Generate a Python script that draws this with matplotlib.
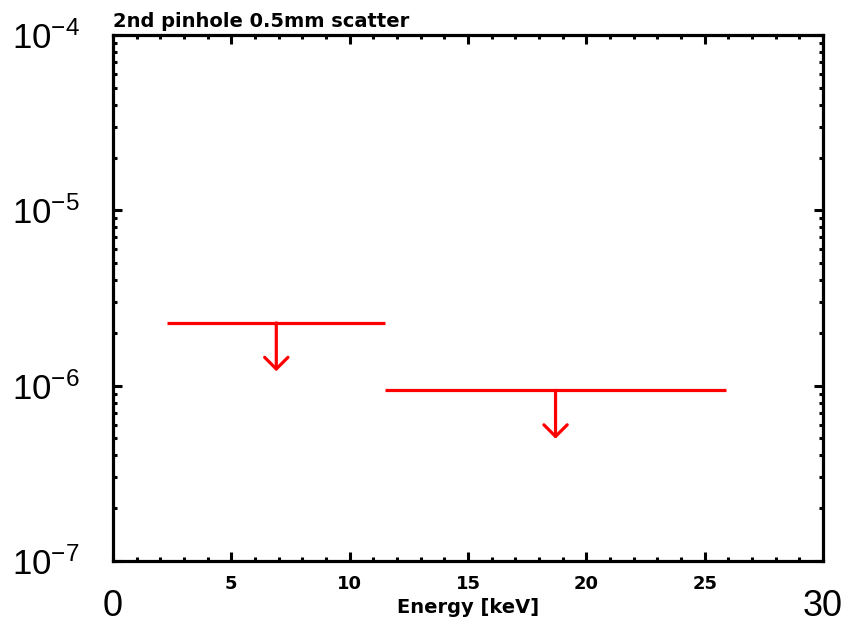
import numpy as np
import matplotlib
matplotlib.use("Agg")
import matplotlib.pyplot as plt
from matplotlib.ticker import LogLocator, MultipleLocator, NullFormatter

plt.rcParams['font.family'] = ['Liberation Sans', 'DejaVu Sans']
plt.rcParams['mathtext.default'] = 'regular'

# upper limits: energy bins [keV] and flux limits
bin_lo = [2.3, 11.5]
bin_hi = [11.5, 25.9]
limits = [2.28e-6, 9.4e-7]
arrow_factor = 0.53

title = "2nd pinhole 0.5mm scatter"
xlabel = "Energy [keV]"
small_ticks = [5, 10, 15, 20, 25]
edge_ticks = [0, 30]

fig = plt.figure(figsize=(8.42, 6.25), dpi=100)
ax = fig.add_axes([0.1342, 0.1024, 0.8432, 0.8416])

red = '#ff0000'
for lo, hi, lim in zip(bin_lo, bin_hi, limits):
    ax.hlines(lim, lo, hi, color=red, lw=2.3)
    mid = 0.5 * (lo + hi)
    ax.annotate('', xy=(mid, lim * arrow_factor), xytext=(mid, lim),
                arrowprops=dict(arrowstyle='->,head_length=0.42,head_width=0.42',
                                color=red, lw=2.3, shrinkA=0, shrinkB=0,
                                mutation_scale=20))

ax.set_xlim(0, 30)
ax.set_yscale('log')
ax.set_ylim(1e-7, 1e-4)

for s in ax.spines.values():
    s.set_linewidth(2.3)

ax.set_xticks(small_ticks)
ax.set_xticklabels([str(t) for t in small_ticks], family='DejaVu Sans',
                   fontweight='bold', fontsize=13)
ax.xaxis.set_minor_locator(MultipleLocator(1))
ax.yaxis.set_major_locator(LogLocator(base=10, numticks=10))
ax.yaxis.set_minor_locator(LogLocator(base=10, subs=np.arange(2, 10), numticks=10))
ax.yaxis.set_minor_formatter(NullFormatter())

ax.tick_params(which='both', direction='in', top=True, right=True, width=2.2)
ax.tick_params(which='major', length=6.5)
ax.tick_params(which='minor', length=3)
ax.tick_params(axis='x', which='major', pad=10)
ax.tick_params(axis='y', which='major', labelsize=25, pad=24)

sec = ax.secondary_xaxis('bottom')
sec.set_xticks(edge_ticks)
sec.set_xticklabels([str(t) for t in edge_ticks], fontsize=26)
sec.tick_params(length=0, pad=20)
sec.spines['bottom'].set_visible(False)

ax.set_xlabel(xlabel, family='DejaVu Sans', fontweight='bold', fontsize=14,
              labelpad=4)
ax.set_title(title, loc='left', family='DejaVu Sans', fontweight='bold',
             fontsize=14, pad=6)

fig.savefig('out.png', dpi=100)
